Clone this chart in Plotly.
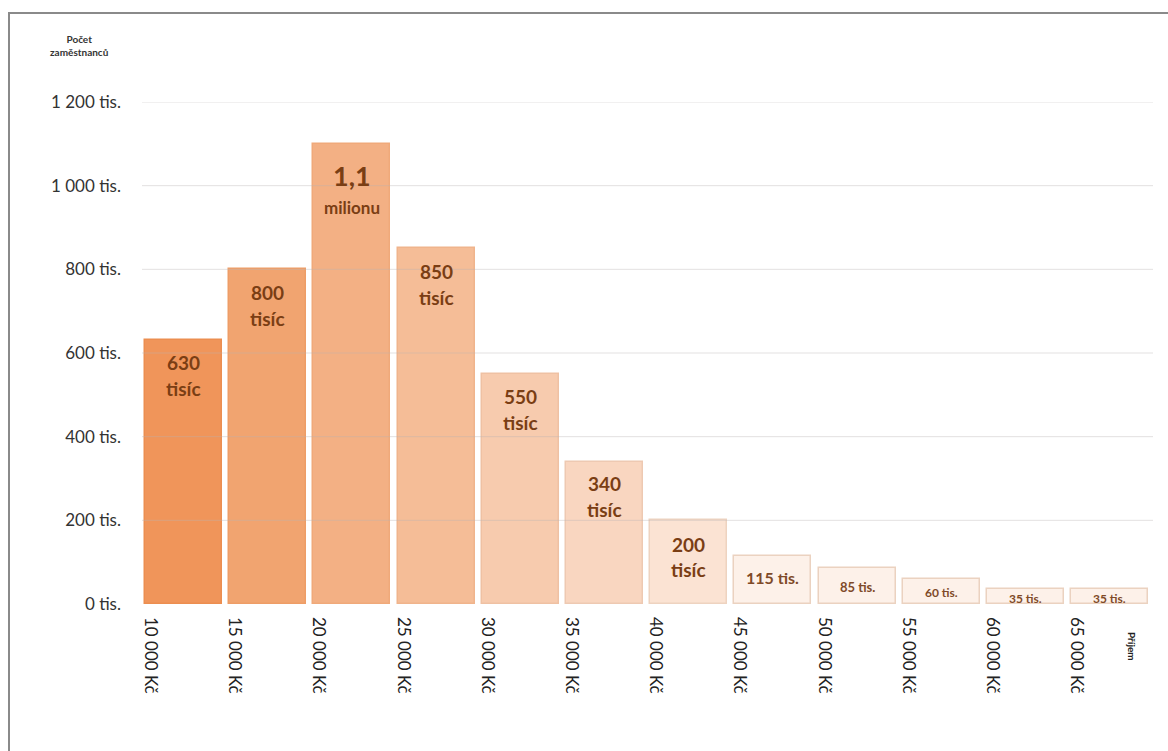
import plotly.graph_objects as go

# ---- data ----
income_bins = [10000, 15000, 20000, 25000, 30000, 35000, 40000, 45000, 50000, 55000, 60000, 65000]
income_labels = ["10 000 Kč", "15 000 Kč", "20 000 Kč", "25 000 Kč", "30 000 Kč", "35 000 Kč",
                 "40 000 Kč", "45 000 Kč", "50 000 Kč", "55 000 Kč", "60 000 Kč", "65 000 Kč"]
employees_tis = [630, 800, 1100, 850, 550, 340, 200, 115, 85, 60, 35, 35]
label_line1 = ["630", "800", "1,1", "850", "550", "340", "200", "115 tis.", "85 tis.", "60 tis.", "35 tis.", "35 tis."]
label_line2 = ["tisíc", "tisíc", "milionu", "tisíc", "tisíc", "tisíc", "tisíc", "", "", "", "", ""]
y_ticks = [0, 200, 400, 600, 800, 1000, 1200]
y_ticktext = ["0 tis.", "200 tis.", "400 tis.", "600 tis.", "800 tis.", "1 000 tis.", "1 200 tis."]

# ---- styles ----
bar_width = 4575
tick_label_shift = 330
fills = ["#F0955A", "#F1A470", "#F3B084", "#F5BD97", "#F7CBAE", "#F9D6C0", "#FBE3D3",
         "#FDF1E9", "#FDF1E9", "#FDF1E9", "#FDF1E9", "#FDF1E9"]
borders = ["#EC8E50", "#EE9D67", "#F0A97A", "#F0B48C", "#EFC1A3", "#EEC9B2", "#EED3C0",
           "#EBD2C0", "#EBD2C0", "#EBD2C0", "#EBD2C0", "#EBD2C0"]
line1_size = [19, 19, 27, 19, 19, 19, 19, 16, 13, 12, 12, 12]
line1_shift = [-22, -23, -32, -23, -23, -22, -24, -22, -19, -14, -9, -9]
line2_size = [19, 19, 17, 19, 19, 19, 19, 0, 0, 0, 0, 0]
line2_shift = [-48, -49, -64, -49, -49, -48, -49, 0, 0, 0, 0, 0]
text_colors = ["#7A3E14"] * 7 + ["#7F4A28"] * 5
FONT = "Lato, 'Open Sans', sans-serif"

fig = go.Figure()
fig.add_trace(go.Bar(
    x=income_bins, y=employees_tis, width=bar_width, offset=0,
    marker=dict(color=fills, line=dict(color=borders, width=1.5)),
    hoverinfo="skip", showlegend=False,
))

annotations = []
for i, (xv, yv) in enumerate(zip(income_bins, employees_tis)):
    xc = xv + bar_width / 2
    annotations.append(dict(x=xc, y=yv, xref="x", yref="y", text="<b>%s</b>" % label_line1[i],
                            showarrow=False, yanchor="middle", xanchor="center", yshift=line1_shift[i],
                            font=dict(family=FONT, size=line1_size[i], color=text_colors[i])))
    if label_line2[i]:
        annotations.append(dict(x=xc, y=yv, xref="x", yref="y", text="<b>%s</b>" % label_line2[i],
                                showarrow=False, yanchor="middle", xanchor="center", yshift=line2_shift[i],
                                font=dict(family=FONT, size=line2_size[i], color=text_colors[i])))

L, R, T, B = 142, 1153, 102, 604

def px(x):
    return (x - L) / (R - L)

def py(y):
    return (B - y) / (B - T)

# axis titles
annotations.append(dict(x=px(79), y=py(45), xref="paper", yref="paper", text="<b>Počet<br>zaměstnanců</b>",
                        xanchor="center", yanchor="middle",
                        showarrow=False, font=dict(family=FONT, size=10, color="#333333")))
annotations.append(dict(x=px(1132), y=py(646), xref="paper", yref="paper", text="<b>Příjem</b>", textangle=90,
                        xanchor="center", yanchor="middle",
                        showarrow=False, font=dict(family=FONT, size=10, color="#222222")))

shapes = [dict(type="path", xref="paper", yref="paper",
               path="M %f %f L %f %f L %f %f" % (px(9), py(760), px(9), py(13), px(1170), py(13)),
               line=dict(color="#8A8A8A", width=2), layer="above")]
# faint gridlines, drawn above the bars so they show through as in the original
for t in y_ticks[1:]:
    shapes.append(dict(type="line", xref="paper", yref="y", x0=0, x1=1, y0=t, y1=t,
                       line=dict(color="rgba(185,180,180,0.4)", width=1), layer="above"))

fig.update_layout(
    width=1168, height=751,
    margin=dict(l=L, r=1168 - R, t=T, b=751 - B),
    paper_bgcolor="white", plot_bgcolor="white",
    font=dict(family=FONT, color="#333333"),
    bargap=0,
    annotations=annotations,
    shapes=shapes,
    xaxis=dict(
        range=[9822, 69857], tickmode="array",
        tickvals=[b + tick_label_shift for b in income_bins], ticktext=income_labels,
        tickangle=90, showgrid=False, zeroline=False, showline=False, ticks="",
        tickfont=dict(family=FONT, size=17, color="#222222"), ticklabelstandoff=12,
        fixedrange=True,
    ),
    yaxis=dict(
        range=[0, 1200], tickmode="array", tickvals=y_ticks, ticktext=y_ticktext,
        showgrid=False, zeroline=False, showline=False, ticks="",
        tickfont=dict(family=FONT, size=17, color="#333333"), ticklabelstandoff=20,
        fixedrange=True,
    ),
)

fig.write_html("out.html")
